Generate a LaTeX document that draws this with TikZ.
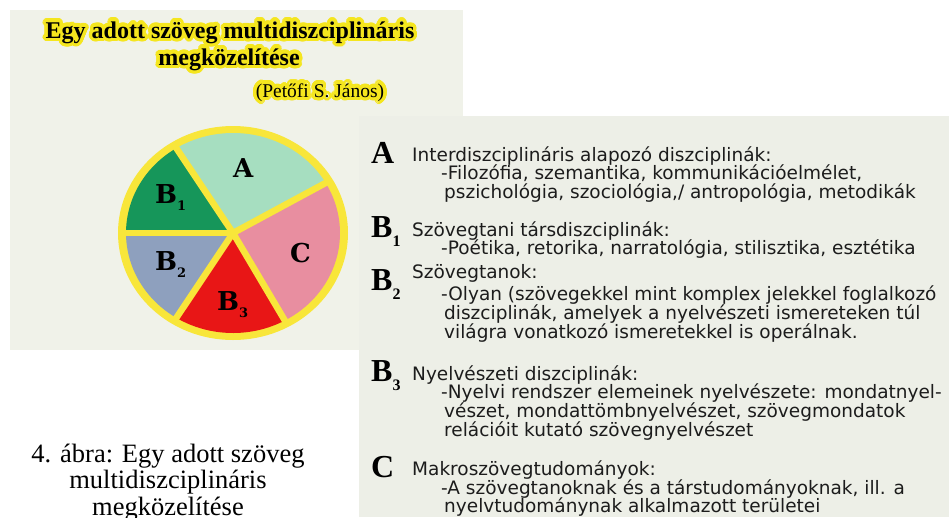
\documentclass[tikz,border=0pt]{standalone}
\usepackage{fontspec}
\setmainfont{Liberation Serif}
\newfontfamily\listfont{DejaVu Sans}
\newfontfamily\heavyfont{DejaVu Serif}
\usepackage{contour}
\contourlength{3.4pt}
\contournumber{32}
\usepackage{tikz}
\usetikzlibrary{positioning}
\definecolor{panelbg}{RGB}{240,242,233}
\definecolor{panelbgr}{RGB}{237,239,231}
\definecolor{rimyellow}{RGB}{248,230,58}
\definecolor{glowyellow}{RGB}{245,230,30}
\definecolor{pieA}{RGB}{166,222,192}
\definecolor{pieBa}{RGB}{22,150,90}
\definecolor{pieBb}{RGB}{142,160,190}
\definecolor{pieBc}{RGB}{232,22,22}
\definecolor{pieC}{RGB}{232,142,160}
\definecolor{inkgray}{RGB}{28,28,28}
\newcommand{\lsub}[1]{\raisebox{-.3em}{\scalebox{.5}{#1}}}

\begin{document}
\begin{tikzpicture}[
    x=1pt, y=-1pt,
    every node/.style={inner sep=0pt},
    title/.style={font=\fontsize{24}{24}\selectfont\bfseries, anchor=base},
    author/.style={font=\fontsize{19.5}{19.5}\selectfont, anchor=base},
    pielab/.style={font=\heavyfont\fontsize{26}{26}\selectfont\bfseries, anchor=base west},
    letter/.style={font=\fontsize{32}{32}\selectfont\bfseries, anchor=base west},
    item/.style={font=\listfont\fontsize{18.5}{19}\selectfont, text=inkgray, anchor=base west},
    caption/.style={font=\fontsize{26.5}{27}\selectfont, anchor=base},
    sep/.style={rimyellow, line width=6.5pt}
]
\useasboundingbox (0,0) rectangle (949,517);
\clip (0,0) rectangle (949,517);

% Left panel
\fill[panelbg] (10,10) rectangle (463,350);
\node[title] (ttl1) at (230,38) {\contour{glowyellow}{Egy adott szöveg multidiszciplináris}};
\node[title] (ttl2) at (229,65) {\contour{glowyellow}{megközelítése}};
\node[author] (auth) at (320,97) {\contour{glowyellow}{(Petőfi S. János)}};

% Pie
\coordinate (pc) at (233,233);
\fill[rimyellow] (pc) ellipse [x radius=115, y radius=107];
\fill[pieA] (pc) -- ++(-30:107 and 100) arc[start angle=-30, end angle=-122, x radius=107, y radius=100] -- cycle;
\fill[pieBa] (pc) -- ++(-122:107 and 100) arc[start angle=-122, end angle=-180, x radius=107, y radius=100] -- cycle;
\fill[pieBb] (pc) -- ++(-180:107 and 100) arc[start angle=-180, end angle=-238, x radius=107, y radius=100] -- cycle;
\fill[pieBc] (pc) -- ++(-238:107 and 100) arc[start angle=-238, end angle=-299, x radius=107, y radius=100] -- cycle;
\fill[pieC] (pc) -- ++(-299:107 and 100) arc[start angle=-299, end angle=-390, x radius=107, y radius=100] -- cycle;
\draw[sep] (pc) -- ++(-30:109 and 102);
\draw[sep] (pc) -- ++(-122:109 and 102);
\draw[sep] (pc) -- ++(-180:109 and 102);
\draw[sep] (pc) -- ++(-238:109 and 102);
\draw[sep] (pc) -- ++(-299:109 and 102);

\node[pielab] (pA) at (233,177) {A};
\node[pielab] (pB1) at (155,203) {B\lsub{1}};
\node[pielab] (pB2) at (155,270) {B\lsub{2}};
\node[pielab] (pB3) at (217,310) {B\lsub{3}};
\node[pielab] (pC) at (290,262) {C};

% Right panel
\fill[panelbgr] (359,116) rectangle (949,517);

\node[letter] (lA) at (371,163) {A};
\node[item] (hA) at (412,161) {Interdiszciplináris alapozó diszciplinák:};
\node[item] (dA1) at (441,179) {-Filozófia, szemantika, kommunikációelmélet,};
\node[item] (dA2) at (444,198) {pszichológia, szociológia,/ antropológia, metodikák};

\node[letter] (lB1) at (371,237) {B\lsub{1}};
\node[item] (hB1) at (412,236) {Szövegtani társdiszciplinák:};
\node[item] (dB11) at (441,254) {-Poétika, retorika, narratológia, stilisztika, esztétika};

\node[letter] (lB2) at (371,290) {B\lsub{2}};
\node[item] (hB2) at (412,278) {Szövegtanok:};
\node[item] (dB21) at (441,300) {-Olyan (szövegekkel mint komplex jelekkel foglalkozó};
\node[item] (dB22) at (444,319) {diszciplinák, amelyek a nyelvészeti ismereteken túl};
\node[item] (dB23) at (444,338) {világra vonatkozó ismeretekkel is operálnak.};

\node[letter] (lB3) at (371,381) {B\lsub{3}};
\node[item] (hB3) at (412,380) {Nyelvészeti diszciplinák:};
\node[item] (dB31) at (441,398) {-Nyelvi rendszer elemeinek nyelvészete: mondatnyel-};
\node[item] (dB32) at (444,417) {vészet, mondattömbnyelvészet, szövegmondatok};
\node[item] (dB33) at (444,436) {relációit kutató szövegnyelvészet};

\node[letter] (lC) at (371,477) {C};
\node[item] (hC) at (412,475) {Makroszövegtudományok:};
\node[item] (dC1) at (441,494) {-A szövegtanoknak és a társtudományoknak, ill. a};
\node[item] (dC2) at (444,512) {nyelvtudománynak alkalmazott területei};

% Caption
\node[caption] (cap1) at (168,462) {4. ábra: Egy adott szöveg};
\node[caption] (cap2) at (168,488) {multidiszciplináris};
\node[caption] (cap3) at (168,515) {megközelítése};

\end{tikzpicture}
\end{document}
